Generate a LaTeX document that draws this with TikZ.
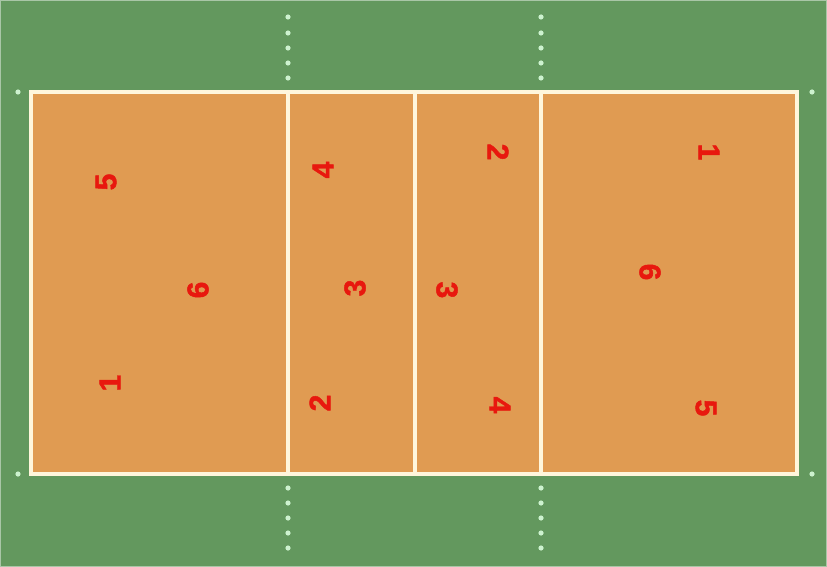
\documentclass[tikz,border=0pt]{standalone}
\usepackage{fontspec}
\setmainfont{Liberation Sans}
\newfontfamily\numfont{Liberation Sans}[BoldFeatures={FakeBold=1.6}]
\definecolor{grass}{HTML}{63985E}
\definecolor{court}{HTML}{E09B52}
\definecolor{cline}{HTML}{FFF6DC}
\definecolor{numred}{HTML}{E8180E}
\definecolor{dotcol}{HTML}{CDF2CF}
\tikzset{
  playernum/.style={text=numred,font=\numfont\bfseries\fontsize{30}{30}\selectfont,inner sep=0pt},
  lteam/.style={playernum,rotate=90},
  rteam/.style={playernum,rotate=-90},
  courtline/.style={draw=cline,line width=3.5pt},
  dotmark/.style={fill=dotcol}
}
\begin{document}
\begin{tikzpicture}[x=1pt,y=-1pt]
\useasboundingbox (0,0) rectangle (827,567);
\fill[grass] (0,0) rectangle (827,567);
\draw[white!45!grass,line width=1.2pt] (0.6,0.6) rectangle (826.4,566.4);
\fill[court] (31,92) rectangle (797,474);
\draw[courtline] (31,92) rectangle (797,474);
\draw[courtline] (288,92) -- (288,474);
\draw[courtline] (415,92) -- (415,474);
\draw[courtline] (541,92) -- (541,474);
\foreach \x in {288,541}{
  \foreach \y in {17,33,48,63,78,488,503,518,533,548}{
    \fill[dotmark] (\x,\y) circle (2.6pt);
  }
}
\foreach \x/\y in {18/92,18/474,812/92,812/474}{
  \fill[dotmark] (\x,\y) circle (2.6pt);
}
\node[lteam] (l5) at (106,182) {5};
\node[lteam] (l6) at (198,290) {6};
\node[lteam] (l1) at (110,383) {1};
\node[lteam] (l4) at (323,170) {4};
\node[lteam] (l3) at (355,288) {3};
\node[lteam] (l2) at (320,403) {2};
\node[rteam] (r3) at (447,290) {3};
\node[rteam] (r2) at (498,152) {2};
\node[rteam] (r4) at (500,405) {4};
\node[rteam] (r1) at (709,152) {1};
\node[rteam] (r6) at (650,272) {6};
\node[rteam] (r5) at (706,408) {5};
\end{tikzpicture}
\end{document}
